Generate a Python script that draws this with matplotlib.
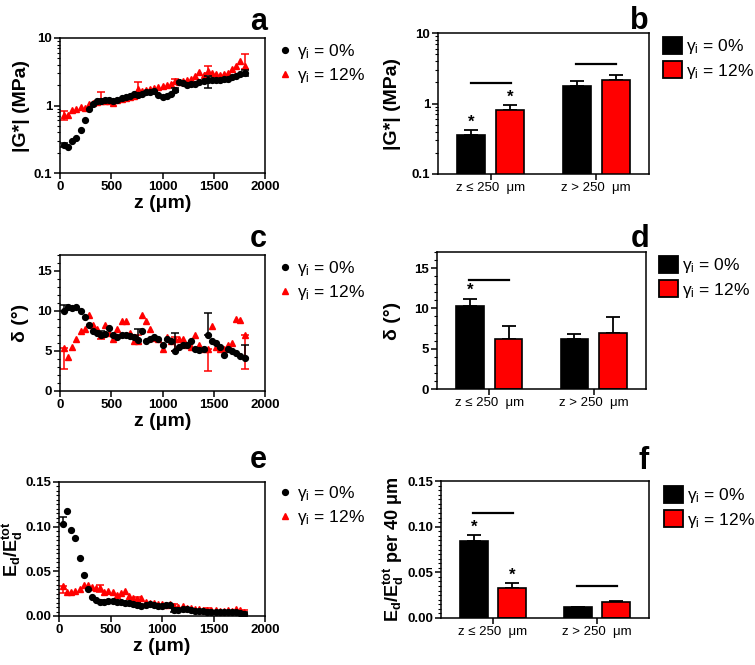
import numpy as np
import matplotlib
matplotlib.use("Agg")
import matplotlib.pyplot as plt
from matplotlib.lines import Line2D
from matplotlib.patches import Patch
from matplotlib.ticker import MultipleLocator, LogLocator, FixedLocator, NullFormatter

plt.rcParams['font.family'] = ['Liberation Sans', 'DejaVu Sans']
plt.rcParams['mathtext.fontset'] = 'custom'
plt.rcParams['mathtext.rm'] = 'Liberation Sans'
plt.rcParams['mathtext.it'] = 'Liberation Sans:italic'
plt.rcParams['mathtext.bf'] = 'Liberation Sans:bold'

# ---------------- data ----------------
z = [40, 80, 120, 160, 200, 240, 280, 320, 360, 400,
     440, 480, 520, 560, 600, 640, 680, 720, 760, 800,
     840, 880, 920, 960, 1000, 1040, 1080, 1120, 1160, 1200,
     1240, 1280, 1320, 1360, 1400, 1440, 1480, 1520, 1560, 1600,
     1640, 1680, 1720, 1760, 1800]

G_0 = [0.26, 0.24, 0.30, 0.33, 0.44, 0.62, 0.88, 1.05, 1.15, 1.18,
       1.20, 1.20, 1.18, 1.22, 1.28, 1.32, 1.38, 1.50, 1.45, 1.50,
       1.60, 1.60, 1.65, 1.45, 1.35, 1.40, 1.50, 1.70, 2.20, 2.15,
       2.00, 2.10, 2.10, 2.20, 2.30, 2.40, 2.35, 2.35, 2.40, 2.45,
       2.50, 2.60, 2.70, 2.90, 3.00]
G_12 = [0.72, 0.72, 0.85, 0.90, 0.95, 0.92, 1.05, 1.10, 1.12, 1.15,
        1.18, 1.15, 1.10, 1.20, 1.25, 1.30, 1.35, 1.40, 1.75, 1.65,
        1.70, 1.75, 1.80, 1.90, 1.95, 2.00, 2.10, 2.30, 2.20, 2.30,
        2.40, 2.50, 2.70, 3.10, 2.80, 3.30, 3.00, 2.90, 2.80, 2.90,
        3.00, 3.50, 3.80, 4.60, 3.80]

delta_0 = [10.0, 10.5, 10.4, 10.5, 10.0, 9.2, 8.3, 7.5, 7.2, 7.0,
           7.1, 7.9, 7.0, 6.7, 7.0, 7.0, 6.9, 6.7, 6.4, 7.5,
           6.2, 6.5, 6.8, 6.5, 5.8, 6.5, 6.3, 5.0, 5.5, 5.7,
           5.8, 6.2, 5.3, 5.1, 5.3, 7.0, 6.2, 6.0, 5.5, 4.5,
           5.2, 5.0, 4.8, 4.4, 4.1]
delta_12 = [5.4, 4.2, 5.5, 6.5, 7.5, 7.7, 9.5, 8.2, 7.8, 7.0,
            8.3, 7.2, 6.5, 7.8, 8.7, 8.7, 7.2, 6.2, 6.2, 9.5,
            8.7, 7.8, 6.6, 6.5, 5.2, 6.8, 6.2, 6.5, 6.5, 6.5,
            5.8, 5.5, 7.0, 5.8, 5.3, 5.2, 8.1, 5.5, 5.2, 5.2,
            5.8, 6.0, 9.0, 8.9, 7.0]

E_0 = [0.103, 0.118, 0.096, 0.087, 0.065, 0.046, 0.030, 0.021, 0.018, 0.016,
       0.016, 0.017, 0.017, 0.016, 0.016, 0.015, 0.014, 0.013, 0.012, 0.011,
       0.012, 0.013, 0.012, 0.011, 0.011, 0.012, 0.012, 0.007, 0.007, 0.008,
       0.008, 0.007, 0.006, 0.006, 0.006, 0.005, 0.005, 0.005, 0.005, 0.004,
       0.004, 0.004, 0.004, 0.003, 0.002]
E_12 = [0.034, 0.027, 0.027, 0.028, 0.030, 0.035, 0.035, 0.032, 0.031, 0.031,
        0.027, 0.028, 0.027, 0.024, 0.026, 0.028, 0.022, 0.020, 0.019, 0.020,
        0.016, 0.015, 0.014, 0.013, 0.013, 0.012, 0.013, 0.011, 0.010, 0.011,
        0.009, 0.009, 0.008, 0.008, 0.007, 0.007, 0.007, 0.007, 0.006, 0.006,
        0.007, 0.006, 0.008, 0.007, 0.005]

# error bars are shown only on a subset of points
err_idx = [0, 9, 18, 27, 35, 44]
G_0_lo = [0.02, 0.08, 0.10, 0.10, 0.60, 0.30]
G_0_hi = [0.02, 0.08, 0.10, 0.10, 0.30, 0.40]
G_12_lo = [0.10, 0.10, 0.15, 0.15, 0.30, 0.30]
G_12_hi = [0.10, 0.45, 0.45, 0.20, 0.60, 1.90]
delta_0_lo = [0.0, 0.0, 0.0, 0.0, 0.0, 0.0]
delta_0_hi = [0.8, 0.5, 1.3, 2.3, 2.7, 1.7]
delta_12_lo = [2.6, 0.5, 0.3, 1.5, 2.7, 4.2]
delta_12_hi = [0.0, 0.0, 0.8, 0.3, 0.0, 0.0]
E_0_lo = [0.0, 0.002, 0.002, 0.002, 0.002, 0.002]
E_0_hi = [0.008, 0.002, 0.002, 0.002, 0.002, 0.002]
E_12_lo = [0.008, 0.004, 0.002, 0.002, 0.002, 0.002]
E_12_hi = [0.0, 0.004, 0.002, 0.002, 0.002, 0.002]

# bar charts
groups = ['z ≤ 250  μm', 'z > 250  μm']
barG_0 = [0.36, 1.80]
barG_12 = [0.82, 2.15]
barG_0_err = [0.06, 0.28]
barG_12_err = [0.13, 0.40]
barG_sig = [1.95, 3.66]
barG_star_0 = [True, False]
barG_star_12 = [True, False]

barD_0 = [10.25, 6.2]
barD_12 = [6.2, 6.95]
barD_0_err = [0.95, 0.65]
barD_12_err = [1.6, 1.95]
barD_sig = [13.5, None]
barD_star_0 = [True, False]
barD_star_12 = [False, False]

barE_0 = [0.0846, 0.0116]
barE_12 = [0.0327, 0.0170]
barE_0_err = [0.0062, 0.0005]
barE_12_err = [0.0053, 0.0015]
barE_sig = [0.115, 0.0355]
barE_star_0 = [True, False]
barE_star_12 = [True, False]

labels = ['γ$_\\mathregular{i}$ = 0%', 'γ$_\\mathregular{i}$ = 12%']
RED = '#FF0000'
BLACK = '#000000'

# ---------------- figure ----------------
W, H = 755, 665
fig = plt.figure(figsize=(W / 100, H / 100), dpi=100)


def ax_px(x0, y0, x1, y1):
    return fig.add_axes([x0 / W, 1 - y1 / H, (x1 - x0) / W, (y1 - y0) / H])


TICK_FS = 9.5
LABEL_FS = 14
LEG_FS = 12.5


def style(ax):
    for s in ax.spines.values():
        s.set_linewidth(1.1)
    ax.tick_params(which='major', direction='out', length=4, width=1.1,
                   labelsize=TICK_FS, pad=1.5)
    ax.tick_params(which='minor', direction='out', length=2, width=0.8)
    for lab in ax.get_yticklabels():
        lab.set_fontweight('bold')


def scatter_panel(ax, y0, y12, lo0, hi0, lo12, hi12):
    ax.plot(z, y0, 'o', color=BLACK, ms=4.2, mec=BLACK, zorder=3)
    ax.plot(z, y12, '^', color=RED, ms=5, mec=RED, zorder=2)
    zx = [z[i] for i in err_idx]
    ax.errorbar(zx, [y0[i] for i in err_idx], yerr=[lo0, hi0], fmt='none',
                ecolor=BLACK, elinewidth=1.1, capsize=3, capthick=1.1, zorder=3)
    ax.errorbar(zx, [y12[i] for i in err_idx], yerr=[lo12, hi12], fmt='none',
                ecolor=RED, elinewidth=1.1, capsize=3, capthick=1.1, zorder=2)
    ax.set_xlim(0, 2000)
    ax.set_xticks([0, 500, 1000, 1500, 2000])
    ax.set_xlabel('z (μm)', fontsize=LABEL_FS, fontweight='bold', labelpad=2)
    style(ax)
    for lab in ax.get_xticklabels():
        lab.set_fontweight('bold')


def scatter_legend(anchor_px):
    h = [Line2D([], [], ls='none', marker='o', color=BLACK, ms=4.2),
         Line2D([], [], ls='none', marker='^', color=RED, ms=5)]
    fig.legend(h, labels, loc='upper left',
               bbox_to_anchor=(anchor_px[0] / W, 1 - anchor_px[1] / H),
               frameon=False, fontsize=LEG_FS, handlelength=0.8,
               handletextpad=0.3, borderpad=0, borderaxespad=0,
               labelspacing=0.28)


def bar_legend(anchor_px):
    h = [Patch(facecolor=BLACK, edgecolor=BLACK, linewidth=1.3),
         Patch(facecolor=RED, edgecolor=BLACK, linewidth=1.3)]
    fig.legend(h, labels, loc='upper left',
               bbox_to_anchor=(anchor_px[0] / W, 1 - anchor_px[1] / H),
               frameon=False, fontsize=LEG_FS, handlelength=1.1,
               handleheight=1.1, handletextpad=0.25, borderpad=0,
               borderaxespad=0, labelspacing=0.3)


def bar_panel(ax, v0, v12, e0, e12, sig, st0, st12):
    x = np.arange(len(groups))
    off, wd = 0.185, 0.265
    ax.bar(x - off, v0, wd, color=BLACK, edgecolor=BLACK, linewidth=1.2, zorder=2)
    ax.bar(x + off, v12, wd, color=RED, edgecolor=BLACK, linewidth=1.2, zorder=2)
    ax.errorbar(x - off, v0, yerr=[np.zeros(len(v0)), e0], fmt='none',
                ecolor=BLACK, elinewidth=1.3, capsize=5, capthick=1.3, zorder=1)
    ax.errorbar(x + off, v12, yerr=[np.zeros(len(v12)), e12], fmt='none',
                ecolor=BLACK, elinewidth=1.3, capsize=5, capthick=1.3, zorder=1)
    for i, s in enumerate(sig):
        if s is not None:
            ax.plot([x[i] - off - 0.005, x[i] + off + 0.005], [s, s],
                    color=BLACK, lw=1.6)
    for i in range(len(groups)):
        if st0[i]:
            ax.annotate('*', (x[i] - off, v0[i] + e0[i]), xytext=(0, 0.5),
                        textcoords='offset points', ha='center', va='bottom',
                        fontsize=12, fontweight='bold')
        if st12[i]:
            ax.annotate('*', (x[i] + off, v12[i] + e12[i]), xytext=(0, 0.5),
                        textcoords='offset points', ha='center', va='bottom',
                        fontsize=12, fontweight='bold')
    ax.set_xlim(-0.5, 1.5)
    ax.set_xticks(x)
    ax.set_xticklabels(groups, fontsize=10)
    style(ax)


# ---- panel a ----
ax = ax_px(60, 38, 265, 173)
ax.set_yscale('log')
scatter_panel(ax, G_0, G_12, G_0_lo, G_0_hi, G_12_lo, G_12_hi)
ax.set_ylim(0.1, 10)
ax.yaxis.set_major_locator(FixedLocator([0.1, 1, 10]))
ax.set_yticklabels(['0.1', '1', '10'], fontweight='bold', fontsize=TICK_FS)
ax.yaxis.set_minor_locator(LogLocator(base=10, subs=np.arange(2, 10)))
ax.yaxis.set_minor_formatter(NullFormatter())
ax.set_ylabel('|G*| (MPa)', fontsize=LABEL_FS, fontweight='bold', labelpad=3)
scatter_legend((278, 42))

# ---- panel b ----
ax = ax_px(438, 33, 649, 174)
ax.set_yscale('log')
bar_panel(ax, barG_0, barG_12, barG_0_err, barG_12_err, barG_sig,
          barG_star_0, barG_star_12)
ax.set_ylim(0.1, 10)
ax.yaxis.set_major_locator(FixedLocator([0.1, 1, 10]))
ax.set_yticklabels(['0.1', '1', '10'], fontweight='bold', fontsize=TICK_FS)
ax.yaxis.set_minor_locator(LogLocator(base=10, subs=np.arange(2, 10)))
ax.yaxis.set_minor_formatter(NullFormatter())
ax.set_ylabel('|G*| (MPa)', fontsize=LABEL_FS, fontweight='bold', labelpad=8)
bar_legend((663, 37))

# ---- panel c ----
ax = ax_px(60, 255, 265, 391)
scatter_panel(ax, delta_0, delta_12, delta_0_lo, delta_0_hi,
              delta_12_lo, delta_12_hi)
ax.set_ylim(0, 17)
ax.set_yticks([0, 5, 10, 15])
ax.yaxis.set_minor_locator(MultipleLocator(1))
for lab in ax.get_yticklabels():
    lab.set_fontweight('bold')
ax.set_ylabel('δ (°)', fontsize=LABEL_FS, fontweight='bold', labelpad=6)
scatter_legend((278, 259))

# ---- panel d ----
ax = ax_px(437, 252, 646, 389)
bar_panel(ax, barD_0, barD_12, barD_0_err, barD_12_err, barD_sig,
          barD_star_0, barD_star_12)
ax.set_ylim(0, 17)
ax.set_yticks([0, 5, 10, 15])
ax.yaxis.set_minor_locator(MultipleLocator(1))
for lab in ax.get_yticklabels():
    lab.set_fontweight('bold')
ax.set_ylabel('δ (°)', fontsize=LABEL_FS, fontweight='bold', labelpad=10)
bar_legend((659, 256))

# ---- panel e ----
ax = ax_px(59, 482, 265, 616)
scatter_panel(ax, E_0, E_12, E_0_lo, E_0_hi, E_12_lo, E_12_hi)
ax.set_ylim(0, 0.15)
ax.set_yticks([0, 0.05, 0.10, 0.15])
ax.set_yticklabels(['0.00', '0.05', '0.10', '0.15'])
ax.yaxis.set_minor_locator(MultipleLocator(0.005))
for lab in ax.get_yticklabels():
    lab.set_fontweight('bold')
ax.set_ylabel(r'$\mathbf{E_d/E_d^{tot}}$', fontsize=13, labelpad=0)
scatter_legend((278, 484))

# ---- panel f ----
ax = ax_px(441, 481, 649, 618)
bar_panel(ax, barE_0, barE_12, barE_0_err, barE_12_err, barE_sig,
          barE_star_0, barE_star_12)
ax.set_ylim(0, 0.15)
ax.set_yticks([0, 0.05, 0.10, 0.15])
ax.set_yticklabels(['0.00', '0.05', '0.10', '0.15'])
ax.yaxis.set_minor_locator(MultipleLocator(0.005))
for lab in ax.get_yticklabels():
    lab.set_fontweight('bold')
ax.set_ylabel(r'$\mathbf{E_d/E_d^{tot}}$ per 40 μm', fontsize=13,
              fontweight='bold', labelpad=1)
bar_legend((664, 486))

# ---- panel letters ----
for letter, xp, yp in [('a', 267, 30), ('b', 649, 29), ('c', 267, 247),
                       ('d', 649, 247), ('e', 267, 468), ('f', 649, 469)]:
    fig.text(xp / W, 1 - yp / H, letter, ha='right', va='baseline',
             fontsize=22, fontweight='bold')

fig.savefig('out.png', dpi=100)
